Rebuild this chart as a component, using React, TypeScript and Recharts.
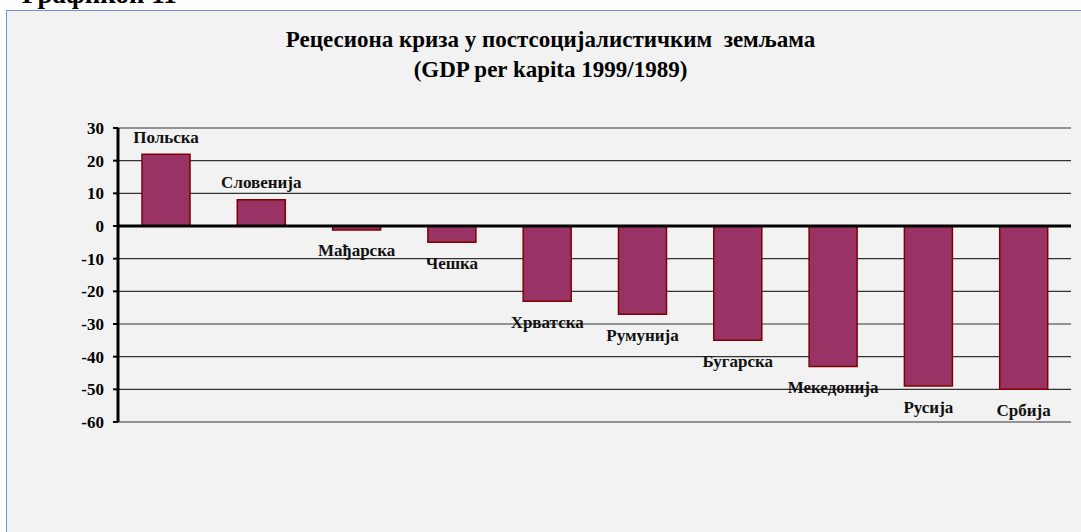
import React from "react";
import { BarChart, Bar, XAxis, YAxis, CartesianGrid, ReferenceLine, LabelList } from "recharts";

const countries = [
  "Польска",
  "Словенија",
  "Мађарска",
  "Чешка",
  "Хрватска",
  "Румунија",
  "Бугарска",
  "Мекедонија",
  "Русија",
  "Србија",
];
const gdpChange = [22, 8, -1.2, -5, -23, -27, -35, -43, -49, -50];
const yTicks = [-60, -50, -40, -30, -20, -10, 0, 10, 20, 30];

const data = countries.map((name, i) => ({ name, value: gdpChange[i] }));

const serif = "'Liberation Serif', 'Times New Roman', serif";

function CountryLabel(props: any) {
  const { x, y, width, height, index } = props;
  const v = gdpChange[index];
  const top = Math.min(y, y + height);
  const bottom = Math.max(y, y + height);
  const cy = v >= 0 ? top - 17 : bottom + 21;
  return (
    <text
      x={x + width / 2}
      y={cy}
      textAnchor="middle"
      dominantBaseline="central"
      fontFamily={serif}
      fontWeight="bold"
      fontSize={17}
      fill="#111"
    >
      {countries[index]}
    </text>
  );
}

export default function App() {
  return (
    <div
      style={{
        position: "absolute",
        left: 0,
        top: 0,
        width: 1081,
        height: 532,
        overflow: "hidden",
        background: "#fff",
        fontFamily: serif,
      }}
    >
      <div
        style={{
          position: "absolute",
          left: 22,
          top: -21,
          fontSize: 27,
          fontWeight: "bold",
          color: "#000",
          whiteSpace: "nowrap",
        }}
      >
        Графикон 11
      </div>
      <div
        style={{
          position: "absolute",
          left: 6,
          top: 10,
          width: 1090,
          height: 540,
          background: "#f2f2f2",
          border: "1px solid #6a95d0",
        }}
      />
      <div
        style={{
          position: "absolute",
          left: 0,
          top: 25,
          width: 1081,
          textAlign: "center",
          paddingLeft: 20,
          boxSizing: "border-box",
          fontSize: 23,
          fontWeight: "bold",
          lineHeight: "30px",
          color: "#000",
        }}
      >
        <div>Рецесиона криза у постсоцијалистичким&nbsp; земљама</div>
        <div>(GDP per kapita 1999/1989)</div>
      </div>
      <div style={{ position: "absolute", left: 0, top: 0 }}>
        <BarChart
          width={1081}
          height={532}
          data={data}
          margin={{ top: 128, right: 10, bottom: 110, left: 78 }}
          barSize={48}
        >
          <CartesianGrid horizontal vertical={false} stroke="#333" strokeWidth={1.2} />
          <XAxis dataKey="name" hide />
          <YAxis
            width={40}
            domain={[-60, 30]}
            ticks={yTicks}
            interval={0}
            axisLine={{ stroke: "#000", strokeWidth: 3 }}
            tickLine={{ stroke: "#000", strokeWidth: 2 }}
            tickSize={5}
            tickMargin={9}
            tick={{ fontSize: 17, fontWeight: "bold", fill: "#000", fontFamily: serif }}
          />
          <ReferenceLine y={0} stroke="#000" strokeWidth={3} />
          <Bar
            dataKey="value"
            fill="#993366"
            stroke="#800000"
            strokeWidth={1.5}
            isAnimationActive={false}
          >
            <LabelList dataKey="name" content={CountryLabel} />
          </Bar>
        </BarChart>
      </div>
    </div>
  );
}
